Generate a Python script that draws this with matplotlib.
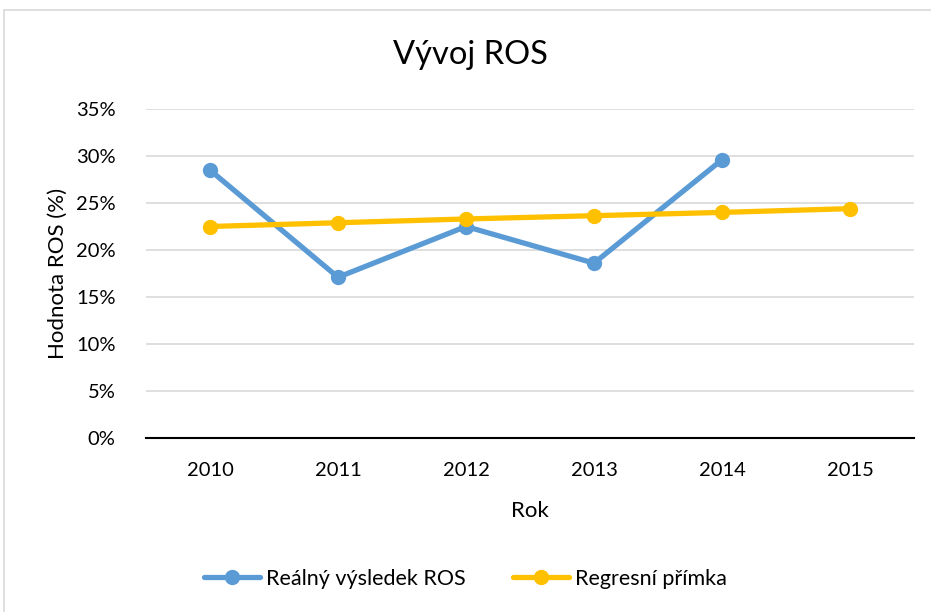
import matplotlib.pyplot as plt
from matplotlib.patches import Rectangle
from matplotlib.ticker import PercentFormatter

plt.rcParams['font.family'] = ['Lato', 'DejaVu Sans']

years = ["2010", "2011", "2012", "2013", "2014", "2015"]
real_ros = [28.5, 17.1, 22.5, 18.6, 29.6]
regression = [22.5, 22.9, 23.3, 23.65, 24.0, 24.4]

BLUE = "#5B9BD5"
YELLOW = "#FFC000"

fig = plt.figure(figsize=(9.31, 6.12), dpi=100)
fig.patches.append(Rectangle((3.5 / 931, -0.01), 1, 1 - 10 / 612 + 0.01, transform=fig.transFigure,
                             fill=False, edgecolor="#D9D9D9", linewidth=1.2))
ax = fig.add_axes([146 / 931, 1 - 438 / 612, 768 / 931, 329 / 612])

x_real = range(len(real_ros))
x_reg = range(len(regression))
ax.plot(x_real, real_ros, color=BLUE, lw=3.8, marker="o", ms=10,
        solid_capstyle="round", label="Reálný výsledek ROS", zorder=3)
ax.plot(x_reg, regression, color=YELLOW, lw=3.8, marker="o", ms=10,
        solid_capstyle="round", label="Regresní přímka", zorder=4)

ax.set_xlim(-0.5, len(years) - 0.5)
ax.set_ylim(0, 35)
ax.set_yticks(range(0, 36, 5))
ax.yaxis.set_major_formatter(PercentFormatter(decimals=0))
ax.set_xticks(range(len(years)))
ax.set_xticklabels(years)
ax.grid(axis="y", color="#D9D9D9", lw=1.2)
ax.set_axisbelow(True)
for s in ["top", "right", "left"]:
    ax.spines[s].set_visible(False)
ax.spines["bottom"].set_color("black")
ax.spines["bottom"].set_linewidth(1.5)
ax.spines["bottom"].set_zorder(5)
ax.tick_params(length=0, labelsize=14.5, colors="#000000")
ax.tick_params(axis="x", pad=17)
ax.tick_params(axis="y", pad=22)

ax.set_xlabel("Rok", fontsize=16, labelpad=16)
ax.set_ylabel("Hodnota ROS (%)", fontsize=16, labelpad=6)
fig.text(0.5 + 5 / 931, 1 - 55 / 612, "Vývoj ROS", ha="center", va="center", fontsize=23.5)

fig.legend(loc="center", bbox_to_anchor=(0.5, 1 - 579 / 612), ncol=2, frameon=False,
           fontsize=15.5, handlelength=2.6, columnspacing=2.2, handletextpad=0.3)

fig.savefig("out.png", dpi=100, facecolor="white")
